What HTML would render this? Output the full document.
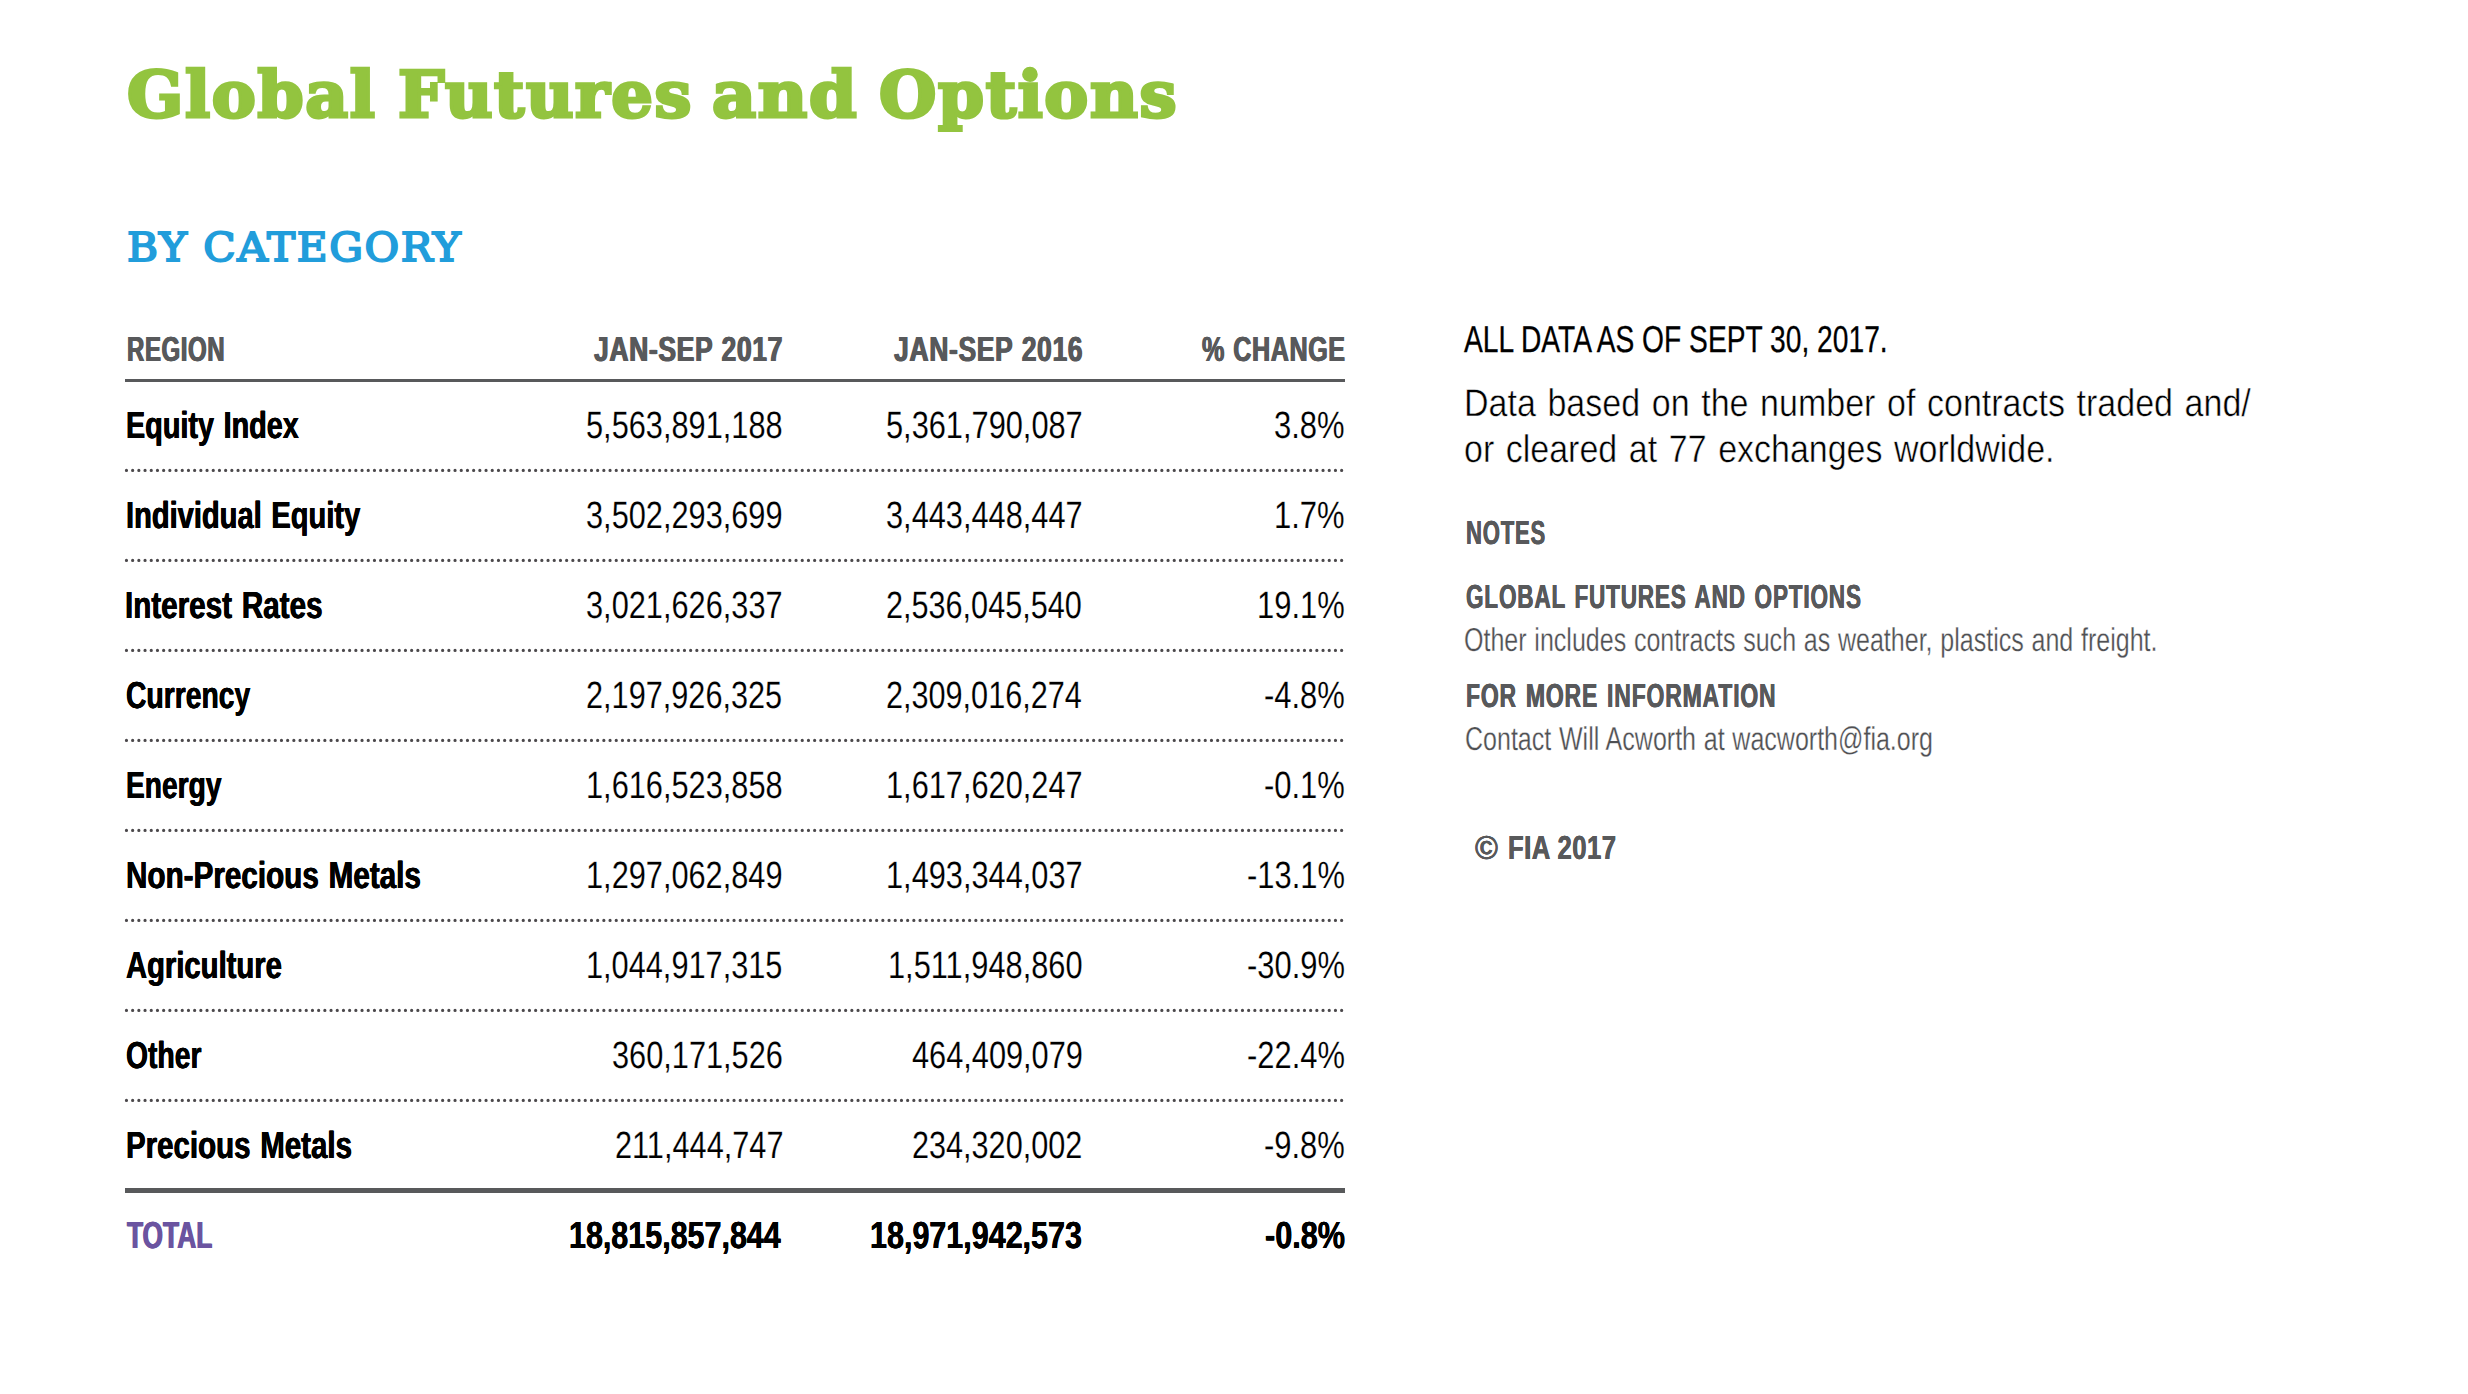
<!DOCTYPE html>
<html lang="en">
<head>
<meta charset="utf-8">
<title>Global Futures and Options</title>
<style>
*{box-sizing:border-box}
html,body{margin:0;padding:0;background:#fff}
body{width:2468px;height:1394px;overflow:hidden;position:relative;font-family:"Liberation Sans",sans-serif}
.page{position:absolute;left:0;top:0;width:2468px;height:1394px;background:#fff;overflow:hidden}
.t{position:absolute;margin:0;padding:0;white-space:nowrap;line-height:1;transform-origin:0 0;font-weight:400;text-rendering:geometricPrecision}
.b{font-weight:700}
.grp{display:block;margin:0;padding:0;font-size:inherit;font-weight:inherit;position:static}
.serif{font-family:"DejaVu Serif","Liberation Serif",serif}
.rule{position:absolute;left:125px;width:1220px;background:#58595b}
svg.dots{position:absolute;left:0;top:0}
</style>
</head>
<body>
<div class="page">
<div class="rule" style="top:379px;height:3px"></div>
<div class="rule" style="top:1188px;height:5px"></div>
<svg class="dots" width="2468" height="1394" viewBox="0 0 2468 1394" aria-hidden="true"><g stroke="#4c494c" stroke-width="3.2" stroke-linecap="round" stroke-dasharray="0 6.2" fill="none"><line x1="126.45" y1="470.4" x2="1345" y2="470.4"/><line x1="126.45" y1="560.4" x2="1345" y2="560.4"/><line x1="126.45" y1="650.4" x2="1345" y2="650.4"/><line x1="126.45" y1="740.4" x2="1345" y2="740.4"/><line x1="126.45" y1="830.4" x2="1345" y2="830.4"/><line x1="126.45" y1="920.4" x2="1345" y2="920.4"/><line x1="126.45" y1="1010.4" x2="1345" y2="1010.4"/><line x1="126.45" y1="1100.4" x2="1345" y2="1100.4"/></g></svg>
<header class="grp">
<h1 class="grp">
<span class="t title b serif" style="left:127.05px;top:64.00px;font-size:63.92px;color:#93c43f;transform:scaleX(1.0334);-webkit-text-stroke:3.20px #93c43f;letter-spacing:1.60px">Global</span>
<span class="t title b serif" style="left:397.77px;top:64.00px;font-size:63.92px;color:#93c43f;transform:scaleX(1.0232);-webkit-text-stroke:3.20px #93c43f;letter-spacing:1.60px">Futures</span>
<span class="t title b serif" style="left:712.27px;top:64.00px;font-size:63.92px;color:#93c43f;transform:scaleX(1.0645);-webkit-text-stroke:3.20px #93c43f;letter-spacing:1.60px">and</span>
<span class="t title b serif" style="left:879.03px;top:64.00px;font-size:63.92px;color:#93c43f;transform:scaleX(1.0300);-webkit-text-stroke:3.20px #93c43f;letter-spacing:1.60px">Options</span>
</h1>
</header>
<main class="grp">
<h2 class="t section serif" style="left:126.72px;top:229.00px;font-size:39.92px;color:#219ddb;transform:scaleX(1.0584);-webkit-text-stroke:1.90px #219ddb;letter-spacing:1.50px">BY CATEGORY</h2>
<div class="t th b" style="left:126.88px;top:333.00px;font-size:34.74px;color:#58595b;transform:scaleX(0.6928);text-shadow:0.70px 0 0 #58595b,-0.70px 0 0 #58595b;letter-spacing:0.80px;word-spacing:1.00px">REGION</div>
<div class="t th b" style="left:594.34px;top:333.00px;font-size:34.74px;color:#58595b;transform:scaleX(0.7637);text-shadow:0.70px 0 0 #58595b,-0.70px 0 0 #58595b;letter-spacing:0.80px;word-spacing:1.00px">JAN-SEP 2017</div>
<div class="t th b" style="left:894.03px;top:333.00px;font-size:34.74px;color:#58595b;transform:scaleX(0.7646);text-shadow:0.70px 0 0 #58595b,-0.70px 0 0 #58595b;letter-spacing:0.80px;word-spacing:1.00px">JAN-SEP 2016</div>
<div class="t th b" style="left:1201.91px;top:333.00px;font-size:34.74px;color:#58595b;transform:scaleX(0.7241);text-shadow:0.70px 0 0 #58595b,-0.70px 0 0 #58595b;letter-spacing:0.80px;word-spacing:1.00px">% CHANGE</div>
<div class="t lab b" style="left:126.00px;top:408.00px;font-size:37.79px;color:#000;transform:scaleX(0.7625);text-shadow:0.45px 0 0 #000,-0.45px 0 0 #000;word-spacing:2.00px">Equity Index</div>
<div class="t num" style="left:585.75px;top:407.00px;font-size:38.01px;color:#000;transform:scaleX(0.8089);-webkit-text-stroke:0.15px #fff">5,563,891,188</div>
<div class="t num" style="left:885.95px;top:407.00px;font-size:38.01px;color:#000;transform:scaleX(0.8095);-webkit-text-stroke:0.15px #fff">5,361,790,087</div>
<div class="t num" style="left:1273.83px;top:407.00px;font-size:38.01px;color:#000;transform:scaleX(0.8158);-webkit-text-stroke:0.15px #fff">3.8%</div>
<div class="t lab b" style="left:125.74px;top:498.00px;font-size:37.79px;color:#000;transform:scaleX(0.7698);text-shadow:0.45px 0 0 #000,-0.45px 0 0 #000;word-spacing:2.00px">Individual Equity</div>
<div class="t num" style="left:585.86px;top:497.00px;font-size:38.01px;color:#000;transform:scaleX(0.8088);-webkit-text-stroke:0.15px #fff">3,502,293,699</div>
<div class="t num" style="left:886.06px;top:497.00px;font-size:38.01px;color:#000;transform:scaleX(0.8090);-webkit-text-stroke:0.15px #fff">3,443,448,447</div>
<div class="t num" style="left:1273.85px;top:497.00px;font-size:38.01px;color:#000;transform:scaleX(0.8156);-webkit-text-stroke:0.15px #fff">1.7%</div>
<div class="t lab b" style="left:125.48px;top:588.00px;font-size:37.79px;color:#000;transform:scaleX(0.7842);text-shadow:0.45px 0 0 #000,-0.45px 0 0 #000;word-spacing:2.00px">Interest Rates</div>
<div class="t num" style="left:585.86px;top:587.00px;font-size:38.01px;color:#000;transform:scaleX(0.8090);-webkit-text-stroke:0.15px #fff">3,021,626,337</div>
<div class="t num" style="left:885.81px;top:587.00px;font-size:38.01px;color:#000;transform:scaleX(0.8056);-webkit-text-stroke:0.15px #fff">2,536,045,540</div>
<div class="t num" style="left:1256.79px;top:587.00px;font-size:38.01px;color:#000;transform:scaleX(0.8138);-webkit-text-stroke:0.15px #fff">19.1%</div>
<div class="t lab b" style="left:125.85px;top:678.00px;font-size:37.79px;color:#000;transform:scaleX(0.7489);text-shadow:0.45px 0 0 #000,-0.45px 0 0 #000;word-spacing:2.00px">Currency</div>
<div class="t num" style="left:586.38px;top:677.00px;font-size:38.01px;color:#000;transform:scaleX(0.8071);-webkit-text-stroke:0.15px #fff">2,197,926,325</div>
<div class="t num" style="left:885.81px;top:677.00px;font-size:38.01px;color:#000;transform:scaleX(0.8056);-webkit-text-stroke:0.15px #fff">2,309,016,274</div>
<div class="t num" style="left:1263.50px;top:677.00px;font-size:38.01px;color:#000;transform:scaleX(0.8140);-webkit-text-stroke:0.15px #fff">-4.8%</div>
<div class="t lab b" style="left:125.87px;top:768.00px;font-size:37.79px;color:#000;transform:scaleX(0.7455);text-shadow:0.45px 0 0 #000,-0.45px 0 0 #000;word-spacing:2.00px">Energy</div>
<div class="t num" style="left:586.08px;top:767.00px;font-size:38.01px;color:#000;transform:scaleX(0.8091);-webkit-text-stroke:0.15px #fff">1,616,523,858</div>
<div class="t num" style="left:886.08px;top:767.00px;font-size:38.01px;color:#000;transform:scaleX(0.8089);-webkit-text-stroke:0.15px #fff">1,617,620,247</div>
<div class="t num" style="left:1263.50px;top:767.00px;font-size:38.01px;color:#000;transform:scaleX(0.8140);-webkit-text-stroke:0.15px #fff">-0.1%</div>
<div class="t lab b" style="left:125.52px;top:858.00px;font-size:37.79px;color:#000;transform:scaleX(0.7850);text-shadow:0.45px 0 0 #000,-0.45px 0 0 #000;word-spacing:2.00px">Non-Precious Metals</div>
<div class="t num" style="left:585.88px;top:857.00px;font-size:38.01px;color:#000;transform:scaleX(0.8087);-webkit-text-stroke:0.15px #fff">1,297,062,849</div>
<div class="t num" style="left:886.08px;top:857.00px;font-size:38.01px;color:#000;transform:scaleX(0.8089);-webkit-text-stroke:0.15px #fff">1,493,344,037</div>
<div class="t num" style="left:1247.44px;top:857.00px;font-size:38.01px;color:#000;transform:scaleX(0.8127);-webkit-text-stroke:0.15px #fff">-13.1%</div>
<div class="t lab b" style="left:126.17px;top:948.00px;font-size:37.79px;color:#000;transform:scaleX(0.7736);text-shadow:0.45px 0 0 #000,-0.45px 0 0 #000;word-spacing:2.00px">Agriculture</div>
<div class="t num" style="left:585.88px;top:947.00px;font-size:38.01px;color:#000;transform:scaleX(0.8082);-webkit-text-stroke:0.15px #fff">1,044,917,315</div>
<div class="t num" style="left:887.85px;top:947.00px;font-size:38.01px;color:#000;transform:scaleX(0.8099);-webkit-text-stroke:0.15px #fff">1,511,948,860</div>
<div class="t num" style="left:1247.44px;top:947.00px;font-size:38.01px;color:#000;transform:scaleX(0.8127);-webkit-text-stroke:0.15px #fff">-30.9%</div>
<div class="t lab b" style="left:126.25px;top:1038.00px;font-size:37.79px;color:#000;transform:scaleX(0.7492);text-shadow:0.45px 0 0 #000,-0.45px 0 0 #000;word-spacing:2.00px">Other</div>
<div class="t num" style="left:611.64px;top:1037.00px;font-size:38.01px;color:#000;transform:scaleX(0.8087);-webkit-text-stroke:0.15px #fff">360,171,526</div>
<div class="t num" style="left:911.65px;top:1037.00px;font-size:38.01px;color:#000;transform:scaleX(0.8086);-webkit-text-stroke:0.15px #fff">464,409,079</div>
<div class="t num" style="left:1247.44px;top:1037.00px;font-size:38.01px;color:#000;transform:scaleX(0.8127);-webkit-text-stroke:0.15px #fff">-22.4%</div>
<div class="t lab b" style="left:125.61px;top:1128.00px;font-size:37.79px;color:#000;transform:scaleX(0.7800);text-shadow:0.45px 0 0 #000,-0.45px 0 0 #000;word-spacing:2.00px">Precious Metals</div>
<div class="t num" style="left:614.61px;top:1127.00px;font-size:38.01px;color:#000;transform:scaleX(0.8080);-webkit-text-stroke:0.15px #fff">211,444,747</div>
<div class="t num" style="left:911.82px;top:1127.00px;font-size:38.01px;color:#000;transform:scaleX(0.8056);-webkit-text-stroke:0.15px #fff">234,320,002</div>
<div class="t num" style="left:1263.50px;top:1127.00px;font-size:38.01px;color:#000;transform:scaleX(0.8140);-webkit-text-stroke:0.15px #fff">-9.8%</div>
<div class="t tot b" style="left:126.93px;top:1218.00px;font-size:37.79px;color:#6b54a0;transform:scaleX(0.6960);text-shadow:0.70px 0 0 #6b54a0,-0.70px 0 0 #6b54a0">TOTAL</div>
<div class="t totn b" style="left:569.14px;top:1218.00px;font-size:37.79px;color:#000;transform:scaleX(0.8062);text-shadow:0.30px 0 0 #000,-0.30px 0 0 #000">18,815,857,844</div>
<div class="t totn b" style="left:869.74px;top:1218.00px;font-size:37.79px;color:#000;transform:scaleX(0.8070);text-shadow:0.30px 0 0 #000,-0.30px 0 0 #000">18,971,942,573</div>
<div class="t totn b" style="left:1264.75px;top:1218.00px;font-size:37.79px;color:#000;transform:scaleX(0.8112);text-shadow:0.30px 0 0 #000,-0.30px 0 0 #000">-0.8%</div>
</main>
<aside class="grp">
<div class="t asof" style="left:1463.77px;top:321.00px;font-size:37.35px;color:#000;transform:scaleX(0.7553);-webkit-text-stroke:0.30px #000">ALL DATA AS OF SEPT 30, 2017.</div>
<div class="t lead" style="left:1464.32px;top:385.00px;font-size:38.52px;color:#000;transform:scaleX(0.8826);-webkit-text-stroke:0.50px #fff;word-spacing:2.50px">Data based on the number of contracts traded and/</div>
<div class="t lead" style="left:1463.70px;top:431.00px;font-size:38.52px;color:#000;transform:scaleX(0.8816);-webkit-text-stroke:0.50px #fff;word-spacing:2.50px">or cleared at 77 exchanges worldwide.</div>
<div class="t nh b" style="left:1465.88px;top:517.00px;font-size:33.28px;color:#58595b;transform:scaleX(0.6642);text-shadow:0.40px 0 0 #58595b,-0.40px 0 0 #58595b;letter-spacing:1.20px;word-spacing:2.50px">NOTES</div>
<div class="t nh b" style="left:1465.69px;top:581.00px;font-size:33.28px;color:#58595b;transform:scaleX(0.6778);text-shadow:0.40px 0 0 #58595b,-0.40px 0 0 #58595b;letter-spacing:1.20px;word-spacing:2.50px">GLOBAL FUTURES AND OPTIONS</div>
<div class="t nt" style="left:1464.07px;top:623.00px;font-size:32.99px;color:#4f5053;transform:scaleX(0.7590);-webkit-text-stroke:0.30px #fff;word-spacing:1.00px">Other includes contracts such as weather, plastics and freight.</div>
<div class="t nh b" style="left:1465.64px;top:680.00px;font-size:33.28px;color:#58595b;transform:scaleX(0.6904);text-shadow:0.40px 0 0 #58595b,-0.40px 0 0 #58595b;letter-spacing:1.20px;word-spacing:2.50px">FOR MORE INFORMATION</div>
<div class="t nt" style="left:1464.88px;top:722.00px;font-size:32.99px;color:#4f5053;transform:scaleX(0.7588);-webkit-text-stroke:0.30px #fff;word-spacing:1.00px">Contact Will Acworth at wacworth@fia.org</div>
<footer class="grp">
<span class="t nh b" style="left:1475.01px;top:832.00px;font-size:33.28px;color:#58595b;transform:scaleX(0.9356);text-shadow:0.40px 0 0 #58595b,-0.40px 0 0 #58595b;letter-spacing:1.20px;word-spacing:2.50px">©</span>
<span class="t nh b" style="left:1507.63px;top:832.00px;font-size:33.28px;color:#58595b;transform:scaleX(0.7726);text-shadow:0.40px 0 0 #58595b,-0.40px 0 0 #58595b;letter-spacing:0.60px">FIA 2017</span>
</footer>
</aside>
</div>
</body>
</html>
